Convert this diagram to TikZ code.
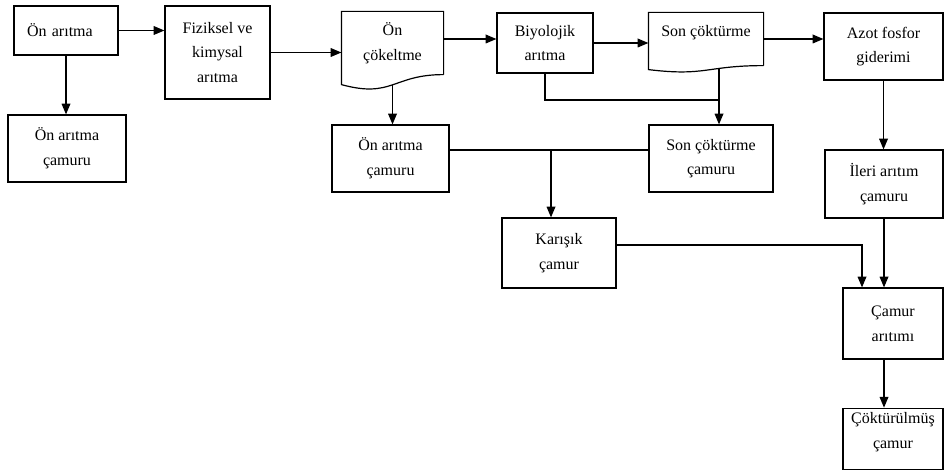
\documentclass[tikz,border=0pt]{standalone}
\usepackage{fontspec}
\setmainfont{Liberation Serif}
\usetikzlibrary{arrows.meta,calc}

% document outline with a wavy bottom: node, left drop, curve depth
\newcommand{\docline}[3]{%
  \draw (#1.south east) -- (#1.north east) -- (#1.north west) -- ([yshift=-#2]#1.south west)
    .. controls ([yshift=-#3]#1.south) and (#1.south) .. (#1.south east);
}

\begin{document}
\begin{tikzpicture}[x=0.75pt,y=-0.75pt,line width=0.9pt,
    font=\fontsize{12}{18.5}\selectfont,
    box/.style={draw,align=center,inner sep=2pt},
    doc/.style={align=center,inner sep=2pt},
    >={Triangle[length=8pt,width=6.5pt]}]
    \useasboundingbox (0,0) rectangle (944,470);

    % top row
    \node[box,minimum width=78pt,minimum height=36.75pt,text width=58.5pt,align=left,inner xsep=9.75pt] (onar) at (66,30.5) {Ön arıtma};
    \node[box,minimum width=78.75pt,minimum height=69.75pt] (fiz) at (217.5,52.5) {Fiziksel ve\\kimysal\\arıtma};
    \node[doc,minimum width=75.75pt,minimum height=46.5pt] (oncok) at (392.5,43) {Ön\\çökeltme};
    \docline{oncok}{7.5pt}{18pt}
    \node[box,minimum width=72pt,minimum height=45pt] (biyo) at (545,43) {Biyolojik\\arıtma};
    \node[doc,minimum width=85.5pt,minimum height=39pt,text depth=12pt] (sonc) at (706,39) {Son çöktürme};
    \docline{sonc}{3pt}{8.25pt}
    \node[box,minimum width=89.25pt,minimum height=50.25pt] (azot) at (883.5,46.5) {Azot fosfor\\giderimi};

    % sludge boxes
    \node[box,minimum width=88.5pt,minimum height=50.25pt] (onarcam) at (67,148.5) {Ön arıtma\\çamuru};
    \node[box,minimum width=87.75pt,minimum height=50.25pt] (oncam) at (390.5,158.5) {Ön arıtma\\çamuru};
    \node[box,minimum width=93pt,minimum height=50.25pt] (sonccam) at (711,158.5) {Son çöktürme\\çamuru};
    \node[box,minimum width=88.5pt,minimum height=51pt] (ileri) at (884,184) {İleri arıtım\\çamuru};
    \node[box,minimum width=85.5pt,minimum height=52.5pt] (karisik) at (559,253) {Karışık\\çamur};
    \node[box,minimum width=75pt,minimum height=53.25pt] (camur) at (893,323.5) {Çamur\\arıtımı};
    \node[box,minimum width=75pt,minimum height=45.75pt,text depth=12pt] (cokt) at (893,438.75) {Çöktürülmüş\\çamur};

    % main line
    \draw[->] (onar.east) -- (onar.east -| fiz.west);
    \draw[->] (fiz.east) -- (fiz.east -| oncok.west);
    \draw[->] ([yshift=3pt]oncok.east) -- ([yshift=3pt]oncok.east -| biyo.west);
    \draw[->] (biyo.east) -- (biyo.east -| sonc.west);
    \draw[->] (sonc.east) -- (sonc.east -| azot.west);

    % sludge lines
    \draw[->] (onar.south) -- (onar.south |- onarcam.north);
    \draw[->] (oncok.south) ++(0,10) -- (oncok.south |- oncam.north);
    \coordinate (j1) at (719,100);
    \draw (biyo.south) |- (j1);
    \draw[->] (j1 |- sonc.south) ++(0,3) -- (j1 |- sonccam.north);
    \draw[->] (azot.south) -- (azot.south |- ileri.north);
    \coordinate (j2) at (551,150);
    \draw (oncam.east |- j2) -- (sonccam.west |- j2);
    \draw[->] (j2) -- (j2 |- karisik.north);
    \coordinate (j3) at (862,245);
    \draw[->] (karisik.east |- j3) -- (j3) -- (j3 |- camur.north);
    \draw[->] (ileri.south) -- (ileri.south |- camur.north);
    \draw[->] (ileri.south |- camur.south) -- (ileri.south |- cokt.north);
\end{tikzpicture}
\end{document}
